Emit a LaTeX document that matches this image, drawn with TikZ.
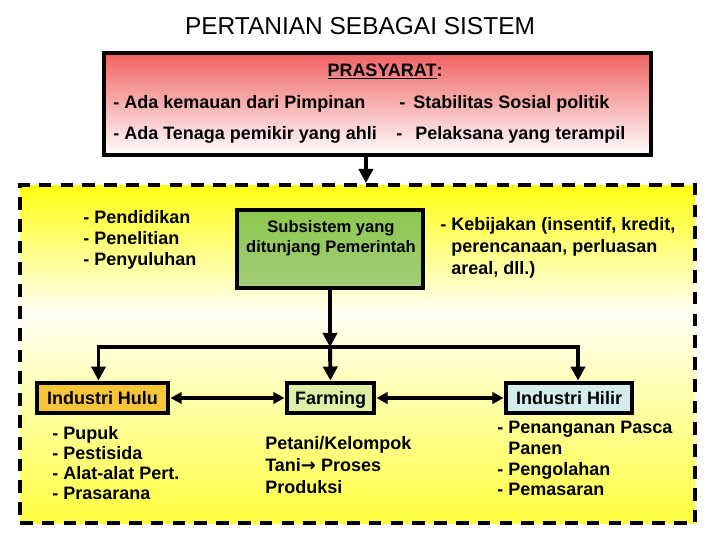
\documentclass[tikz,border=0pt]{standalone}
\usepackage{fontspec}
\setmainfont{Liberation Sans}
\usetikzlibrary{arrows.meta,calc,fit,positioning}
\definecolor{RedTop}{HTML}{F06262}
\definecolor{GreenTop}{HTML}{8CC84E}
\definecolor{GreenBot}{HTML}{A2CD78}
\definecolor{HuluFill}{HTML}{F8C43A}
\definecolor{FarmFill}{HTML}{DEEFA6}
\definecolor{HilirFill}{HTML}{D4ECEC}
\definecolor{YelTop}{HTML}{FFFF10}
\definecolor{YelBot}{HTML}{FFFF40}
\pgfdeclareverticalshading{yelfade}{100bp}{color(0bp)=(YelBot); color(25bp)=(YelBot); color(56bp)=(white!96!yellow); color(75bp)=(YelTop); color(100bp)=(YelTop)}

\begin{document}
\begin{tikzpicture}[x=.025cm,y=-.025cm,
    box/.style={draw,line width=3.4pt,inner sep=0pt},
    lbl/.style={font=\bfseries\fontsize{12.8}{15}\selectfont,inner sep=0pt,align=left,anchor=north west},
    boxlbl/.style={lbl,anchor=center,text height=9.2pt,text depth=0pt},
    arr/.style={-{Triangle[length=10pt,width=10pt]},line width=2.8pt},
    dbl/.style={{Triangle[length=8pt,width=8pt]}-{Triangle[length=8pt,width=8pt]},line width=2.8pt}]
        \useasboundingbox(0,0)rectangle(720,540);
        \node[font=\fontsize{17.4}{19}\selectfont](judul)at(360,26){PERTANIAN SEBAGAI SISTEM};
        % prasyarat
        \node[box,fit={(104,53)(651,155)},top color=RedTop,bottom color=white](prs){};
        \node[lbl,anchor=base](prsh)at(385,76){\underline{PRASYARAT}:};
        \node[lbl,anchor=base west](p1)at(113,108){- Ada kemauan dari Pimpinan};
        \node[lbl,anchor=base west](p2)at(399,108){-\, Stabilitas Sosial politik};
        \node[lbl,anchor=base west](p3)at(113,139){- Ada Tenaga pemikir yang ahli};
        \node[lbl,anchor=base west](p4)at(396,139){-\ \, Pelaksana yang terampil};
        % sistem
        \node[fit={(20,185)(695,523)},inner sep=0pt,shading=yelfade,draw,line width=2.8pt,dash pattern=on 9pt off 6.5pt](pas){};
        \coordinate(turun)at($(prs.south west)!.479!(prs.south east)$);
        \draw[arr](turun)--(turun|-pas.north);
        \node[box,fit={(237,210)(423,288)},top color=GreenTop,bottom color=GreenBot](sub){};
        \node[lbl,align=center,anchor=center,font=\bfseries\fontsize{11.8}{14}\selectfont](subt)at(331,238){Subsistem yang\\ditunjang Pemerintah};
        \node[lbl](dik)at(83,210){- Pendidikan\\- Penelitian\\- Penyuluhan};
        \node[lbl,font=\bfseries\fontsize{12.8}{15.6}\selectfont](bijak)at(440,217){- Kebijakan (insentif, kredit,\\\phantom{- }perencanaan, perluasan\\\phantom{- }areal, dll.)};
        \node[box,fit={(37,383)(168,413)},fill=HuluFill](hulu){};
        \node[boxlbl]at(hulu.center){Industri Hulu};
        \node[box,fit={(287,383)(374,413)},fill=FarmFill](farm){};
        \node[boxlbl]at(farm.center){Farming};
        \node[box,fit={(506,383)(632,413)},fill=HilirFill](hilir){};
        \node[boxlbl]at(hilir.center){Industri Hilir};
        \coordinate(bus)at(sub.south|-0,347);
        \draw[arr](sub.south)--(bus);
        \draw[arr](bus)--(farm.north);
        \draw[arr](bus)-|($(hulu.north)+(-4,0)$);
        \draw[arr](bus)-|($(hilir.north)+(9,0)$);
        \draw[dbl](hulu.east)--(farm.west);
        \draw[dbl](farm.east)--(hilir.west);
        \node[lbl,font=\bfseries\fontsize{12.8}{14.3}\selectfont](hulut)at(52,426){- Pupuk\\- Pestisida\\- Alat-alat Pert.\\- Prasarana};
        \node[lbl,font=\bfseries\fontsize{12.8}{15.6}\selectfont](farmt)at(265,436){Petani/Kelompok\\Tani{\fontspec{DejaVu Sans}\bfseries →} Proses\\Produksi};
        \node[lbl,font=\bfseries\fontsize{12.8}{14.7}\selectfont](hilirt)at(497,421){- Penanganan Pasca\\\phantom{- }Panen\\- Pengolahan\\- Pemasaran};
      \end{tikzpicture}
\end{document}
